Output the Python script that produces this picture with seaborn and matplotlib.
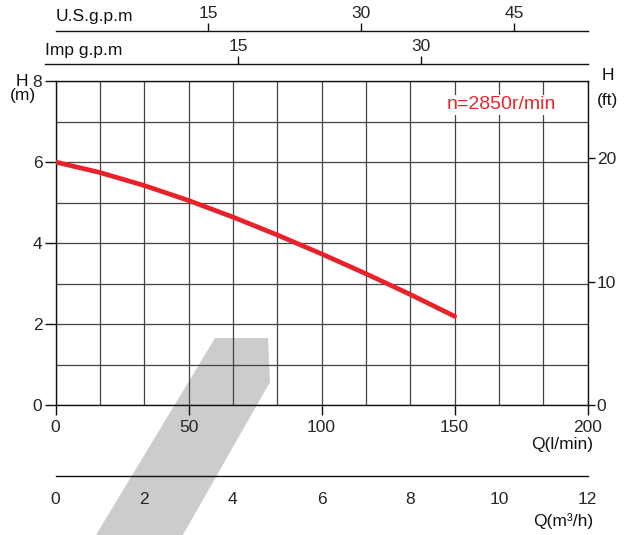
import numpy as np
import pandas as pd
import matplotlib
matplotlib.use("Agg")
import matplotlib.pyplot as plt
from matplotlib.patches import Polygon
import seaborn as sns

# curva de la bomba
caudal = [0, 16.7, 33.3, 50, 66.7, 83.3, 100, 116.7, 133.3, 150]   # l/min
altura = [6.0, 5.74, 5.42, 5.05, 4.64, 4.20, 3.73, 3.24, 2.73, 2.19]  # m

q_ticks = [0, 50, 100, 150, 200]
h_ticks = [0, 2, 4, 6, 8]
ft_ticks = [0, 10, 20]
m3h_ticks = [0, 2, 4, 6, 8, 10, 12]
usgpm_ticks = [15, 30, 45]
impgpm_ticks = [15, 30]
L_PER_USGPM = 3.83   # escala usada en el grafico
L_PER_IMPGPM = 4.58
M_PER_FT = 0.3048
velocidad = "n=2850r/min"

df = pd.DataFrame({"Q": caudal, "H": altura})

sns.set_theme(style="white")
plt.rcParams["font.family"] = ["Liberation Sans", "DejaVu Sans"]
plt.rcParams["text.color"] = "#111111"
FS = 12.5
W, H = 633, 535

fig = plt.figure(figsize=(W / 100, H / 100), dpi=100)

def rect(x0, y0, x1, y1):
    return [x0 / W, 1 - y1 / H, (x1 - x0) / W, (y1 - y0) / H]

# figura gris de fondo
gris = Polygon([(215 / W, 1 - 338 / H), (268 / W, 1 - 338 / H), (270 / W, 1 - 382 / H),
                (180 / W, 1 - 540 / H), (93 / W, 1 - 540 / H)],
               closed=True, transform=fig.transFigure, facecolor="#cccccc",
               edgecolor="none", zorder=-5)
fig.add_artist(gris)

ax = fig.add_axes(rect(55.5, 81, 587.7, 405))
ax.set_facecolor("none")
sns.lineplot(data=df, x="Q", y="H", ax=ax, color="#e8222b", lw=3.4, zorder=5)
ax.set_xlim(0, 200)
ax.set_ylim(0, 8)
ax.set_xticks(q_ticks)
ax.set_yticks(h_ticks)
ax.set_xticks(np.linspace(0, 200, 13), minor=True)
ax.set_yticks(np.arange(0, 9, 1), minor=True)
ax.grid(which="both", color="#444444", lw=0.9)
ax.tick_params(which="minor", length=0)
ax.tick_params(axis="x", which="major", direction="out", length=7, width=1, pad=4,
               labelsize=FS, bottom=True, color="#111111")
ax.tick_params(axis="y", which="major", direction="out", length=8, width=1, pad=1.5,
               labelsize=FS, left=True, color="#111111")
ax.set_xlabel("")
ax.set_ylabel("")
for s in ax.spines.values():
    s.set_visible(True)
    s.set_color("#111111")
    s.set_linewidth(1)

ax.text(167.4, 7.41, velocidad, color="#e8262d", fontsize=14, ha="center", va="center",
        bbox=dict(facecolor="white", edgecolor="none", pad=1), zorder=6)

# eje derecho en pies
ax2 = ax.twinx()
ax2.set_ylim(0, 8 / M_PER_FT)
ax2.set_yticks(ft_ticks)
ax2.tick_params(axis="y", direction="out", length=5, width=1, pad=1.5, labelsize=FS,
                right=True, color="#111111")
ax2.grid(False)
for s in ax2.spines.values():
    s.set_visible(False)

# ejes superiores en galones y eje inferior en m3/h
def eje_linea(r, lim, ticks, top=True):
    a = fig.add_axes(r)
    a.set_facecolor("none")
    a.set_xlim(*lim)
    a.set_yticks([])
    for k, s in a.spines.items():
        s.set_visible(k == ("top" if top else "bottom"))
        s.set_color("#111111")
        s.set_linewidth(1)
    if top:
        a.xaxis.tick_top()
    a.set_xticks(ticks)
    a.tick_params(axis="x", direction="out", length=6, width=1, pad=1.5, labelsize=FS,
                  color="#111111")
    return a

us = eje_linea(rect(55.5, 31, 587.7, 32.5), (0, 200 / L_PER_USGPM), usgpm_ticks)
imp = eje_linea(rect(45, 64, 587.7, 65.5),
                ((45 - 55.5) / (587.7 - 55.5) * 200 / L_PER_IMPGPM, 200 / L_PER_IMPGPM),
                impgpm_ticks)
m3 = eje_linea(rect(55.5, 474, 587.7, 475.5), (0, 12), m3h_ticks, top=False)
m3.tick_params(axis="x", pad=6)

fig.text(56 / W, 1 - 17 / H, "U.S.g.p.m", fontsize=FS, ha="left", va="center")
fig.text(45 / W, 1 - 50 / H, "Imp g.p.m", fontsize=FS, ha="left", va="center")
fig.text(22 / W, 1 - 81 / H, "H", fontsize=FS, ha="center", va="center")
fig.text(23 / W, 1 - 96 / H, "(m)", fontsize=FS, ha="center", va="center")
fig.text(608 / W, 1 - 76 / H, "H", fontsize=FS, ha="center", va="center")
fig.text(608 / W, 1 - 100 / H, "(ft)", fontsize=FS, ha="center", va="center")
fig.text(593 / W, 1 - 444 / H, "Q(l/min)", fontsize=FS, ha="right", va="center")
fig.text(593 / W, 1 - 521 / H, "Q(m³/h)", fontsize=FS, ha="right", va="center")

fig.savefig("out.png", dpi=100)
